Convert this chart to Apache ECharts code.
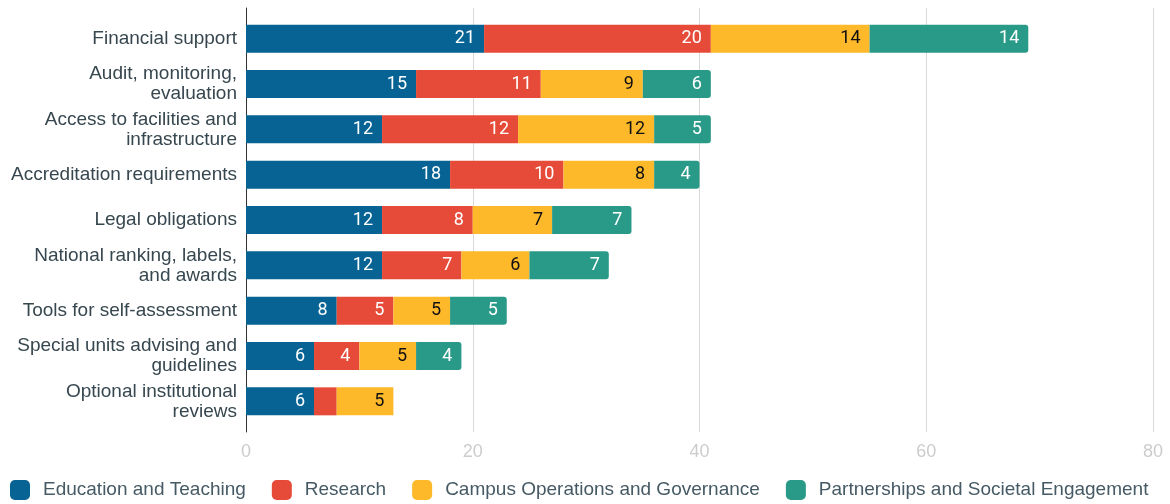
<!DOCTYPE html>
<html>
<head>
<meta charset="utf-8">
<script src="https://cdn.jsdelivr.net/npm/echarts@6/dist/echarts.min.js"></script>
<style>
  html, body { margin: 0; padding: 0; background: #fff; }
  #chart { width: 1170px; height: 504px; }
</style>
</head>
<body>
<div id="chart"></div>
<script>
const categories = [
  'Financial support',
  'Audit, monitoring,\nevaluation',
  'Access to facilities and\ninfrastructure',
  'Accreditation requirements',
  'Legal obligations',
  'National ranking, labels,\nand awards',
  'Tools for self-assessment',
  'Special units advising and\nguidelines',
  'Optional institutional\nreviews',
]
const seriesNames = [
  'Education and Teaching',
  'Research',
  'Campus Operations and Governance',
  'Partnerships and Societal Engagement',
]
const education = [21, 15, 12, 18, 12, 12, 8, 6, 6]
const research = [20, 11, 12, 10, 8, 7, 5, 4, 2]
const campus = [14, 9, 12, 8, 7, 6, 5, 5, 5]
const partnerships = [14, 6, 5, 4, 7, 7, 5, 4, 0]
const xTicks = [0, 20, 40, 60, 80]

const colors = ['#066394', '#e54b38', '#fdb92a', '#2a9a88']
const labelColors = ['#fff', '#fff', '#111', '#fff']

const chart = echarts.init(document.getElementById('chart'))

function makeSeries(name, data, i) {
  return {
    name: name,
    type: 'bar',
    stack: 'total',
    xAxisIndex: 1,
    yAxisIndex: 1,
    barWidth: 28,
    data: data,
    itemStyle: {
      color: colors[i],
      borderRadius: i === 3 ? [0, 3, 3, 0] : 0,
    },
    label: {
      show: true,
      position: 'insideRight',
      distance: 9,
      color: labelColors[i],
      fontFamily: 'Roboto',
      fontSize: 18,
      formatter: (p) => (p.value >= 3 ? p.value : ''),
    },
    emphasis: { disabled: true },
  }
}

chart.setOption({
  animation: false,
  color: colors,
  grid: [
    { left: 246, right: 17, top: 8, bottom: 72 },
    { left: 246, right: 17, top: 16, bottom: 80 },
  ],
  legend: {
    left: 10,
    bottom: 4,
    padding: 0,
    itemWidth: 20,
    itemHeight: 20,
    itemGap: 26,
    icon: 'roundRect',
    textStyle: {
      color: '#455a64',
      fontFamily: 'Liberation Sans',
      fontSize: 19,
      padding: [0, 0, 0, 8],
    },
    data: seriesNames,
  },
  xAxis: [
    {
      gridIndex: 0,
      type: 'value',
      min: xTicks[0],
      max: xTicks[xTicks.length - 1],
      interval: 20,
      axisLine: { show: false },
      axisTick: { show: false },
      splitLine: { lineStyle: { color: '#d9d9d9', width: 1 } },
      axisLabel: {
        color: '#cccccc',
        fontFamily: 'Liberation Sans',
        fontSize: 18,
        margin: 11,
      },
    },
    {
      gridIndex: 1,
      type: 'value',
      min: 0,
      max: 80,
      show: false,
    },
  ],
  yAxis: [
    {
      gridIndex: 0,
      type: 'value',
      axisLine: { show: true, lineStyle: { color: '#333', width: 1 } },
      axisTick: { show: false },
      axisLabel: { show: false },
      splitLine: { show: false },
    },
    {
      gridIndex: 1,
      type: 'category',
      inverse: true,
      data: categories,
      axisLine: { show: false },
      axisTick: { show: false },
      axisLabel: {
        color: '#37474f',
        fontFamily: 'Liberation Sans',
        fontSize: 19,
        lineHeight: 20,
        margin: 9,
        align: 'right',
      },
    },
  ],
  series: [
    makeSeries(seriesNames[0], education, 0),
    makeSeries(seriesNames[1], research, 1),
    makeSeries(seriesNames[2], campus, 2),
    makeSeries(seriesNames[3], partnerships, 3),
  ],
})
</script>
</body>
</html>
